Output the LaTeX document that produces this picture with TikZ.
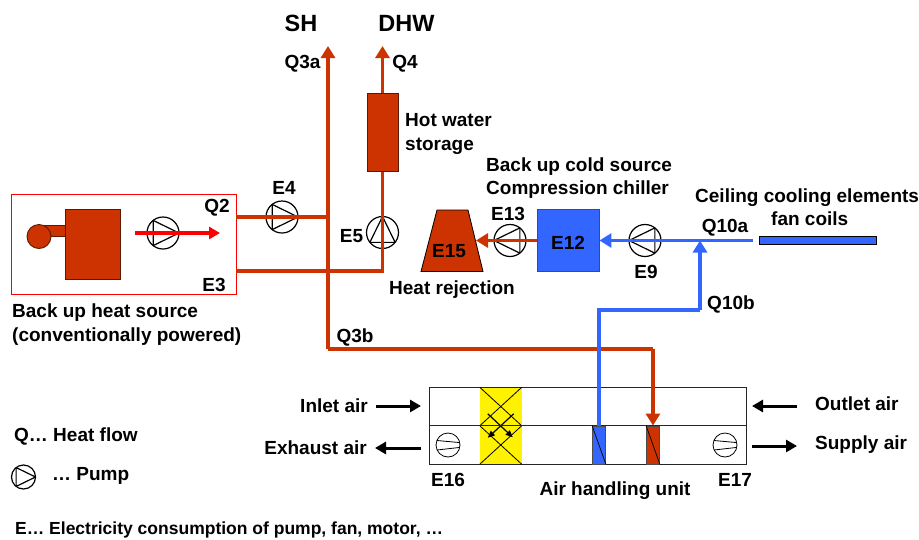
\documentclass[tikz,border=0pt]{standalone}
\usepackage{fontspec}
\setmainfont{Liberation Sans}
\usetikzlibrary{arrows.meta,calc}
\definecolor{heat}{RGB}{204,51,0}
\definecolor{cold}{RGB}{51,102,255}
\definecolor{edgeh}{RGB}{90,25,0}
\definecolor{alarm}{RGB}{255,0,0}
\tikzset{
  x=1pt,y=-1pt,
  lbl/.style={font=\fontsize{19}{23.5}\selectfont\bfseries,text=black,inner sep=0pt,align=left,yshift=-1.5pt},
  heatline/.style={draw=heat,line width=3.4pt},
  coldline/.style={draw=cold,line width=3.4pt},
  heatarrow/.style={heatline,-{Triangle[width=14pt,length=12pt]}},
  coldarrow/.style={coldline,-{Triangle[width=14pt,length=12pt]}},
  airarrow/.style={draw=black,line width=3pt,-{Triangle[width=12pt,length=11pt]}},
  heatbox/.style={draw=edgeh,fill=heat,line width=.9pt,inner sep=0pt},
  pumpc/.style={circle,draw=black,line width=1.2pt,minimum size=#1,inner sep=0pt},
  fanc/.style={circle,draw=black,line width=.8pt,minimum size=24pt,inner sep=0pt}
}
\newcommand{\pumptri}[3]{% name, angle, radius
  \draw[black,line width=1.2pt,line join=round]
    ($(#1.center)+(#2:#3)$) -- ($(#1.center)+(#2+128:#3)$) -- ($(#1.center)+(#2-128:#3)$) -- cycle;
}
\newcommand{\fanmark}[1]{%
  \draw[black,line width=.8pt] ($(#1.center)+(-11,-4.5)$) -- ($(#1.center)+(11,-2.5)$);
  \draw[black,line width=.8pt] ($(#1.center)+(-11,5)$) -- ($(#1.center)+(11,2.5)$);
}
\begin{document}
\begin{tikzpicture}
\useasboundingbox (0,0) rectangle (919,539);

% back up heat source
\node[draw=alarm,line width=.9pt,minimum width=224.5pt,minimum height=100pt,inner sep=0pt] (source) at (123.75,244) {};
\node[heatbox,minimum width=26pt,minimum height=11pt] (stub) at (53,230.5) {};
\node[heatbox,circle,minimum size=24pt] (burner) at (39,236.5) {};
\node[heatbox,minimum width=54.5pt,minimum height=70pt] (boiler) at (93,244) {};
\node[pumpc=32pt] (pumpQ2) at (163,233) {};
\pumptri{pumpQ2}{0}{16}
\coordinate (redS) at (135,233);
\coordinate (redE) at (220,233);
\draw[draw=alarm,line width=3.6pt,-{Triangle[width=12pt,length=11pt]}] (redS) -- (redE);

% pumps
\node[pumpc=32pt] (pumpE4) at (282,217) {};
\node[pumpc=32pt] (pumpE5) at (382.5,232.5) {};
\node[pumpc=32pt] (pumpE13) at (510,240.5) {};
\node[pumpc=32pt] (pumpE9) at (645,240.5) {};
\pumptri{pumpE4}{0}{16}
\pumptri{pumpE5}{-90}{16}
\pumptri{pumpE13}{180}{16}
\pumptri{pumpE9}{180}{16}

% storage, rejection, chiller, ceiling
\node[heatbox,minimum width=31pt,minimum height=78pt] (storage) at (382.5,132.5) {};
\path[heatbox,draw=black,line width=.8pt] (437,210) -- (468,210) -- (483,271.5) -- (421,271.5) -- cycle;
\coordinate (rej) at (476,240.5);
\node[draw=black!70,fill=cold,line width=.9pt,minimum width=62pt,minimum height=61.5pt,inner sep=0pt] (chiller) at (568,240.5) {};
\node[draw=black,fill=cold,line width=.8pt,minimum width=117pt,minimum height=8pt,inner sep=0pt] (ceiling) at (817.5,240) {};

% air handling unit
\node[draw=black!85,fill=white,line width=.9pt,minimum width=317pt,minimum height=76.5pt,inner sep=0pt] (ahu) at (587.5,425.75) {};
\node[fill=yellow,minimum width=41.5pt,minimum height=76.5pt,inner sep=0pt] (hx) at (500.75,425.75) {};
\draw[black,line width=.8pt] (hx.north west) -- (hx.east);
\draw[black,line width=.8pt] (hx.north east) -- (hx.west);
\draw[black,line width=.8pt] (hx.south west) -- (hx.east);
\draw[black,line width=.8pt] (hx.south east) -- (hx.west);
\draw[black,line width=1.2pt,-{Triangle[width=6pt,length=7pt]}] ($(hx.center)+(-13,-12)$) -- ($(hx.center)+(12,11.5)$);
\draw[black,line width=1.2pt,-{Triangle[width=6pt,length=7pt]}] ($(hx.center)+(13,-12)$) -- ($(hx.center)+(-13,12)$);
\coordinate (ahuL) at (429,425.75);
\coordinate (ahuR) at (746,425.75);
\draw[black!85,line width=.9pt] (ahuL) -- (ahuR);
\node[draw=black!70,fill=cold,line width=.8pt,minimum width=13pt,minimum height=38pt,inner sep=0pt] (coilC) at (599,445) {};
\node[draw=black!70,fill=heat,line width=.8pt,minimum width=13pt,minimum height=38pt,inner sep=0pt] (coilH) at (653,445) {};
\draw[black,line width=.7pt] (coilC.north west) -- (coilC.south east);
\draw[black,line width=.7pt] (coilH.north west) -- (coilH.south east);
\node[fanc] (fanL) at (448,445) {};
\node[fanc] (fanR) at (725,445) {};
\fanmark{fanL}
\fanmark{fanR}

% junctions
\coordinate (SHtop) at (328,46);
\coordinate (SHbot) at (328,349);
\coordinate (j2) at (328,217);
\coordinate (sE4) at (source.east |- j2);
\coordinate (j3) at (382.5,271);
\coordinate (sE3) at (source.east |- j3);
\coordinate (hk) at (653,349);
\coordinate (DHWtop) at (382.5,46);
\coordinate (jb) at (700,240.5);
\coordinate (jb2) at (700,310);
\coordinate (jb3) at (599,310);
\coordinate (ceilEnd) at (753,240.5);

% heat lines
\draw[heatline] (sE4) -- (j2);
\draw[heatline,line join=miter] (sE3) -- (j3) -- (storage.south);
\draw[heatarrow] (storage.north) -- (DHWtop);
\draw[heatarrow] (SHbot) -- (SHtop);
\draw[heatline] (SHbot) -- (hk);
\draw[heatarrow] (hk) -- (coilH.north);
\draw[heatarrow] (chiller.west) -- (rej);

% cold lines
\draw[coldline] (ceilEnd) -- (jb);
\draw[coldarrow] (jb) -- (chiller.east);
\draw[coldarrow] (jb2) -- (jb);
\draw[coldline] (jb2) -- (jb3) -- (coilC.north);

% air arrows
\coordinate (inA) at (376,406);
\coordinate (inB) at (421,406);
\coordinate (exA) at (421,448);
\coordinate (exB) at (375,448);
\coordinate (ouA) at (797,406);
\coordinate (ouB) at (752,406);
\coordinate (suA) at (752,446);
\coordinate (suB) at (797,446);
\draw[airarrow] (inA) -- (inB);
\draw[airarrow] (exA) -- (exB);
\draw[airarrow] (ouA) -- (ouB);
\draw[airarrow] (suA) -- (suB);

% legend pump
\node[pumpc=24pt] (pumpL) at (23.5,477) {};
\pumptri{pumpL}{0}{12}

% labels
\node[lbl,font=\fontsize{23.5}{27}\selectfont\bfseries] (tSH) at (301,21.5) {SH};
\node[lbl,font=\fontsize{23.5}{27}\selectfont\bfseries] (tDHW) at (406.5,21.5) {DHW};
\node[lbl] (tQ3a) at (302.5,62) {Q3a};
\node[lbl] (tQ4) at (405,62) {Q4};
\node[lbl,anchor=west] (tHW) at (405,132.5) {Hot water\\storage};
\node[lbl] (tE4) at (284,186) {E4};
\node[lbl] (tQ2) at (217,206) {Q2};
\node[lbl] (tE3) at (214,283) {E3};
\node[lbl] (tE5) at (351.5,235) {E5};
\node[lbl,anchor=west] (tBS) at (12,323) {Back up heat source\\(conventionally powered)};
\node[lbl] (tE15) at (449,250) {E15};
\node[lbl] (tHR) at (452,288) {Heat rejection};
\node[lbl] (tE13) at (508,212) {E13};
\node[lbl] (tE12) at (568,241) {E12};
\node[lbl] (tE9) at (646,270) {E9};
\node[lbl,anchor=west] (tBC) at (486,176.5) {Back up cold source\\Compression chiller};
\node[lbl,anchor=west] (tCC) at (695,205.5) {Ceiling cooling elements\\\hspace*{76pt}fan coils};
\node[lbl] (tQ10a) at (725,226) {Q10a};
\node[lbl] (tQ10b) at (731,303) {Q10b};
\node[lbl] (tQ3b) at (355,336) {Q3b};
\node[lbl,anchor=east] (tIn) at (368,404.5) {Inlet air};
\node[lbl,anchor=east] (tEx) at (367,446) {Exhaust air};
\node[lbl,anchor=west] (tOu) at (815,402.5) {Outlet air};
\node[lbl,anchor=west] (tSu) at (815,443) {Supply air};
\node[lbl] (tE16) at (448,478.5) {E16};
\node[lbl] (tE17) at (735,478.5) {E17};
\node[lbl] (tAH) at (615,489) {Air handling unit};
\node[lbl,anchor=west] (tLQ) at (14,435) {Q… Heat flow};
\node[lbl,anchor=west] (tLP) at (52,474) {… Pump};
\node[lbl,anchor=west,font=\fontsize{17.5}{21}\selectfont\bfseries] (tLE) at (15,528) {E… Electricity consumption of pump, fan, motor, …};
\end{tikzpicture}
\end{document}
